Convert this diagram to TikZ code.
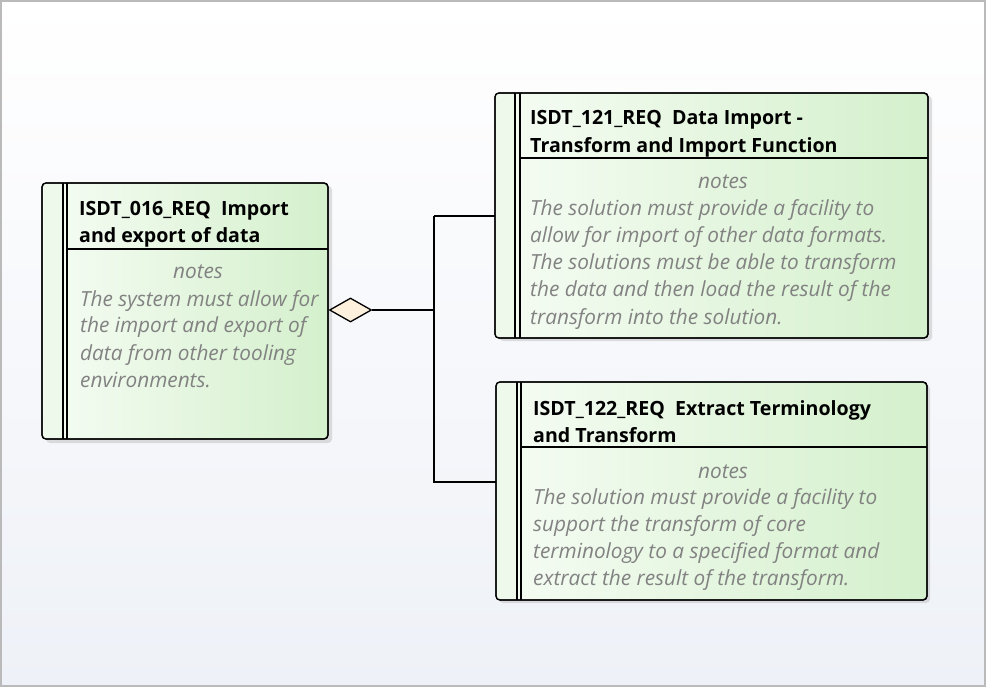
\documentclass[tikz,border=0pt]{standalone}
\usepackage{fontspec}
\setmainfont{Open Sans}
\usetikzlibrary{shapes.geometric}
\definecolor{bgbot}{RGB}{238,241,247}
\definecolor{grnL}{RGB}{246,252,244}
\definecolor{grnR}{RGB}{212,240,204}
\definecolor{strip}{RGB}{238,249,236}
\definecolor{notegray}{RGB}{130,130,130}
\definecolor{cream}{RGB}{253,240,220}
\tikzset{
  reqbox/.style={draw=black, line width=1.3pt, rounded corners=4pt, left color=grnL, right color=grnR, inner sep=0pt},
  shadowbox/.style={fill=black!35, opacity=0.35, rounded corners=4pt},
  ttl/.style={anchor=base west, inner sep=0pt, font=\fontsize{19.6}{19.6}\selectfont\bfseries},
  nt/.style={anchor=base west, inner sep=0pt, text=notegray, font=\fontsize{20.8}{20.8}\selectfont\itshape},
  ntc/.style={anchor=base, inner sep=0pt, text=notegray, font=\fontsize{20.8}{20.8}\selectfont\itshape},
  conn/.style={draw=black, line width=1.3pt},
}
\begin{document}
\begin{tikzpicture}[x=1pt,y=-1pt]
\useasboundingbox (0,0) rectangle (986,687);
\shade[top color=white, bottom color=bgbot] (0,0) rectangle (986,687);
\draw[color=black!27, line width=2pt] (1,1) rectangle (985,686);

% ---------- box 1
\fill[shadowbox] (46,186) rectangle (332,443);
\node[reqbox, minimum width=286, minimum height=256] (b1) at (185,311) {};
\fill[strip] (43.7,183.7) rectangle (63,438.3);
\draw[line width=1.2pt] (63,183) -- (63,439) (67,183) -- (67,439);
\draw[line width=1.2pt] (67,249) -- (328,249);
\draw[line width=1.3pt, rounded corners=4pt] (42,183) rectangle (328,439);
\node[ttl] (t1a) at (79,216) {ISDT\_016\_REQ\ \ Import};
\node[ttl] (t1b) at (79,243) {and export of data};
\node[ntc] (n1) at (198,279) {notes};
\node[nt] (l1a) at (80,306) {The system must allow for};
\node[nt] (l1b) at (80,333) {the import and export of};
\node[nt] (l1c) at (80,360) {data from other tooling};
\node[nt] (l1d) at (80,387) {environments.};

% ---------- box 2
\fill[shadowbox] (499,96) rectangle (932,341);
\node[reqbox, minimum width=433, minimum height=245] (b2) at (711.5,215.5) {};
\fill[strip] (495.7,93.7) rectangle (515,337.3);
\draw[line width=1.2pt] (515,93) -- (515,338) (520,93) -- (520,338);
\draw[line width=1.2pt] (520,158) -- (928,158);
\draw[line width=1.3pt, rounded corners=4pt] (495,93) rectangle (928,338);
\node[ttl] (t2a) at (530,125) {ISDT\_121\_REQ\ \ Data Import -};
\node[ttl] (t2b) at (530,153) {Transform and Import Function};
\node[ntc] (n2) at (723,189) {notes};
\node[nt] (l2a) at (530,216) {The solution must provide a facility to};
\node[nt] (l2b) at (530,243) {allow for import of other data formats.};
\node[nt] (l2c) at (530,270) {The solutions must be able to transform};
\node[nt] (l2d) at (530,297) {the data and then load the result of the};
\node[nt] (l2e) at (530,324) {transform into the solution.};

% ---------- box 3
\fill[shadowbox] (499,385) rectangle (930,603);
\node[reqbox, minimum width=431, minimum height=218] (b3) at (711.5,491) {};
\fill[strip] (496.7,382.7) rectangle (517,599.3);
\draw[line width=1.2pt] (517,382) -- (517,600) (521,382) -- (521,600);
\draw[line width=1.2pt] (521,447) -- (927,447);
\draw[line width=1.3pt, rounded corners=4pt] (496,382) rectangle (927,600);
\node[ttl] (t3a) at (533,415) {ISDT\_122\_REQ\ \ Extract Terminology};
\node[ttl] (t3b) at (533,442) {and Transform};
\node[ntc] (n3) at (723,478) {notes};
\node[nt] (l3a) at (533,504) {The solution must provide a facility to};
\node[nt] (l3b) at (533,531) {support the transform of core};
\node[nt] (l3c) at (533,558) {terminology to a specified format and};
\node[nt] (l3d) at (533,585) {extract the result of the transform.};

% ---------- connectors
\node[diamond, draw=black, line width=1.3pt, fill=cream, minimum width=42, minimum height=24, inner sep=0pt] (d) at (350.5,310) {};
\coordinate (j) at (434,310);
\coordinate (p2) at (495,216);
\coordinate (p3) at (496,482);
\draw[conn] (d.east) -- (j);
\draw[conn] (j |- p2) -- (p2);
\draw[conn] (j |- p2) -- (j |- p3) -- (p3);
\end{tikzpicture}
\end{document}
